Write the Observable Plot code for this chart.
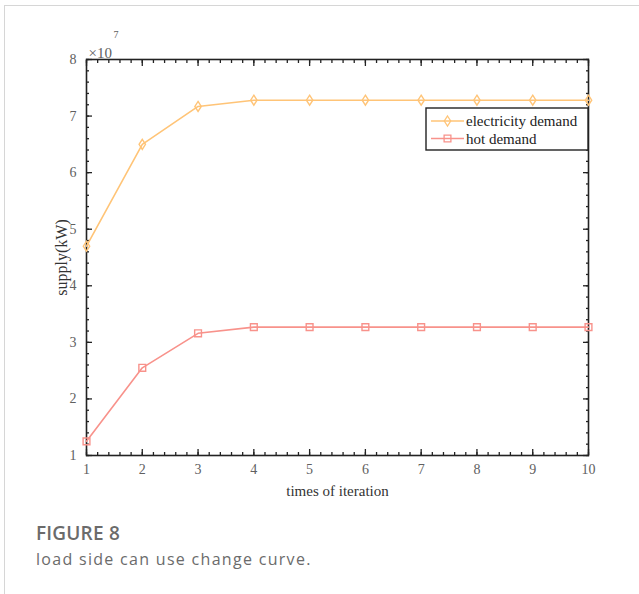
<!DOCTYPE html>
<html>
<head>
<meta charset="utf-8">
<script src="https://cdn.jsdelivr.net/npm/d3@7"></script>
<script src="https://cdn.jsdelivr.net/npm/@observablehq/plot@0.6"></script>
<style>
  body { margin: 0; background: #fff; width: 639px; height: 594px; position: relative; overflow: hidden; }
  #frame { position: absolute; left: 4px; top: 5px; width: 700px; height: 700px; border-top: 1px solid #d6d6d6; border-left: 1px solid #d6d6d6; }
  #chart { position: absolute; left: 0; top: 0; }
  #cap { position: absolute; left: 36px; top: 519px; font-family: "Open Sans", sans-serif; color: #6b6b6b; }
  #cap .t { font-size: 19px; font-weight: 600; line-height: 28px; letter-spacing: 0.2px; }
  #cap .s { font-size: 16px; line-height: 24px; letter-spacing: 1.3px; }
</style>
</head>
<body>
<div id="frame"></div>
<div id="chart"></div>
<div id="cap"><div class="t">FIGURE 8</div><div class="s">load side can use change curve.</div></div>
<script>
const iterations = [1, 2, 3, 4, 5, 6, 7, 8, 9, 10];
const electricity = [4.70, 6.50, 7.17, 7.28, 7.28, 7.28, 7.28, 7.28, 7.28, 7.28];
const hot = [1.25, 2.55, 3.16, 3.27, 3.27, 3.27, 3.27, 3.27, 3.27, 3.27];
const seriesNames = ["electricity demand", "hot demand"];
const seriesColors = ["#ffc477", "#f8928b"];
const xTicks = [1, 2, 3, 4, 5, 6, 7, 8, 9, 10];
const yTicks = [1, 2, 3, 4, 5, 6, 7, 8];
const xMinor = d3.range(1, 10.0001, 0.2);
const yMinor = d3.range(1, 8.0001, 0.2);

const data = [];
iterations.forEach((it, i) => {
  data.push({iter: it, value: electricity[i], series: seriesNames[0]});
  data.push({iter: it, value: hot[i], series: seriesNames[1]});
});

const tallDiamond = {
  draw(ctx, size) {
    const a = Math.sqrt(size / Math.PI);
    const w = a * 0.8, h = a * 1.25;
    ctx.moveTo(0, -h); ctx.lineTo(w, 0); ctx.lineTo(0, h); ctx.lineTo(-w, 0); ctx.closePath();
  }
};
const openSquare = {
  draw(ctx, size) {
    const s = Math.sqrt(size / Math.PI) * 0.85;
    ctx.moveTo(-s, -s); ctx.lineTo(s, -s); ctx.lineTo(s, s); ctx.lineTo(-s, s); ctx.closePath();
  }
};

const none = () => "";
const axisFont = "Liberation Serif, Times New Roman, serif";
const tickCol = "#222";
const labelCol = "#606060";

const chart = Plot.plot({
  width: 639,
  height: 500,
  marginLeft: 86,
  marginRight: 51,
  marginTop: 59,
  marginBottom: 45,
  style: {fontFamily: axisFont, background: "transparent"},
  x: {domain: [1, 10]},
  y: {domain: [1, 8]},
  marks: [
    Plot.axisX(xMinor, {anchor: "bottom", tickSize: -3, tickFormat: none, label: null, stroke: tickCol, strokeWidth: 1.3}),
    Plot.axisX(xMinor, {anchor: "top", tickSize: -3, tickFormat: none, label: null, stroke: tickCol, strokeWidth: 1.3}),
    Plot.axisY(yMinor, {anchor: "left", tickSize: -3, tickFormat: none, label: null, stroke: tickCol, strokeWidth: 1.3}),
    Plot.axisY(yMinor, {anchor: "right", tickSize: -3, tickFormat: none, label: null, stroke: tickCol, strokeWidth: 1.3}),
    Plot.axisX(xTicks, {anchor: "bottom", tickSize: -6, tickFormat: none, label: null, stroke: tickCol, strokeWidth: 1.3}),
    Plot.axisX(xTicks, {anchor: "top", tickSize: -6, tickFormat: none, label: null, stroke: tickCol, strokeWidth: 1.3}),
    Plot.axisY(yTicks, {anchor: "left", tickSize: -6, tickFormat: none, label: null, stroke: tickCol, strokeWidth: 1.3}),
    Plot.axisY(yTicks, {anchor: "right", tickSize: -6, tickFormat: none, label: null, stroke: tickCol, strokeWidth: 1.3}),
    Plot.axisX(xTicks, {anchor: "bottom", tickSize: 0, tickPadding: 9, tickFormat: d => String(d), fontSize: 14, fill: labelCol,
      label: "times of iteration", labelAnchor: "center", labelArrow: "none", labelOffset: 40}),
    Plot.axisY(yTicks, {anchor: "left", tickSize: 0, tickPadding: 10, tickFormat: d => String(d), fontSize: 14, fill: labelCol,
      label: "supply(kW)", labelAnchor: "center", labelArrow: "none", labelOffset: 31}),
    Plot.frame({stroke: "#222", strokeWidth: 1.6}),
    Plot.text(["×10"], {frameAnchor: "top-left", dx: 2, dy: -12, fontSize: 15, fill: labelCol, textAnchor: "start"}),
    Plot.text(["7"], {frameAnchor: "top-left", dx: 27, dy: -29, fontSize: 10, fill: labelCol, textAnchor: "start"}),
    Plot.line(data, {x: "iter", y: "value", z: "series", stroke: "series", strokeWidth: 1.6}),
    Plot.dot(data.filter(d => d.series === seriesNames[0]), {x: "iter", y: "value", symbol: tallDiamond, r: 4, stroke: seriesColors[0], strokeWidth: 1.4, fill: "none"}),
    Plot.dot(data.filter(d => d.series === seriesNames[1]), {x: "iter", y: "value", symbol: openSquare, r: 4, stroke: seriesColors[1], strokeWidth: 1.4, fill: "none"})
  ],
  color: {domain: seriesNames, range: seriesColors}
});

d3.select(chart).selectAll("[aria-label='x-axis label'] text")
  .attr("font-size", 15).attr("fill", "#333");
d3.select(chart).selectAll("[aria-label='y-axis label'] text")
  .attr("font-size", 16).attr("fill", "#333");

// legend box
const svg = d3.select(chart);
const lg = svg.append("g").attr("font-family", axisFont).attr("font-size", 15).attr("text-anchor", "start");
lg.append("rect").attr("x", 426).attr("y", 108).attr("width", 162).attr("height", 42)
  .attr("fill", "#fff").attr("stroke", "#222").attr("stroke-width", 1.4);
const pathD = (sym) => { const p = d3.path(); sym.draw(p, Math.PI * 16); return p.toString(); };
const syms = [tallDiamond, openSquare];
seriesNames.forEach((name, i) => {
  const y = 121 + i * 17.5;
  lg.append("line").attr("x1", 431).attr("x2", 464).attr("y1", y).attr("y2", y)
    .attr("stroke", seriesColors[i]).attr("stroke-width", 1.6);
  lg.append("path").attr("d", pathD(syms[i])).attr("transform", `translate(447.5,${y})`)
    .attr("fill", "none").attr("stroke", seriesColors[i]).attr("stroke-width", 1.3);
  lg.append("text").attr("x", 466).attr("y", y).attr("dy", "0.35em").attr("fill", "#222")
    .attr("text-anchor", "start").text(name);
});

document.getElementById("chart").appendChild(chart);
</script>
</body>
</html>
